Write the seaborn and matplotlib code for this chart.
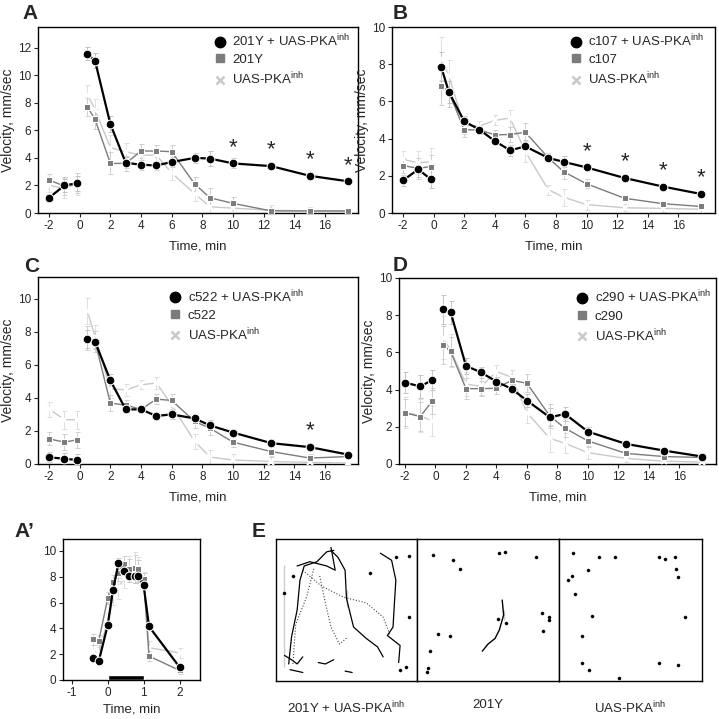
import matplotlib
matplotlib.use('Agg')
import matplotlib.pyplot as plt
from matplotlib.lines import Line2D
import seaborn as sns

sns.set_style('ticks')
plt.rcParams['font.family'] = ['Liberation Sans', 'DejaVu Sans']
plt.rcParams['mathtext.fontset'] = 'custom'
plt.rcParams['mathtext.rm'] = 'Liberation Sans'
plt.rcParams['axes.unicode_minus'] = False

W, H = 719, 719

# time points (min) for panels A-D; first three are pre-stimulus
time = [-2, -1, -0.2, 0.5, 1, 2, 3, 4, 5, 6, 7.5, 8.5, 10, 12.5, 15, 17.5]

# panel A: 201Y
a_black = [1.1, 2.0, 2.15, 11.55, 11.05, 6.45, 3.65, 3.5, 3.45, 3.7, 4.0, 3.95, 3.6, 3.4, 2.7, 2.3]
a_grey = [2.4, 1.95, 2.15, 7.7, 6.8, 3.6, 3.6, 4.5, 4.5, 4.45, 2.1, 1.1, 0.7, 0.15, 0.15, 0.15]
a_light = [2.0, 1.8, 2.1, 8.6, 7.5, 4.75, 4.45, 4.2, 4.2, 2.9, 1.4, 0.45, 0.35, 0.2, 0.15, 0.1]
a_err = [0.5, 0.8, 0.9, 0.8, 0.9, 1.0, 0.7, 0.6, 0.5, 0.6, 0.6, 0.9, 0.6, 0.4, 0.3, 0.3]
a_stars = [10, 12.5, 15, 17.5]

# panel B: c107
b_black = [1.75, 2.35, 1.82, 7.85, 6.5, 4.93, 4.48, 3.87, 3.37, 3.58, 2.96, 2.75, 2.45, 1.88, 1.42, 1.02]
b_grey = [2.55, 2.4, 2.5, 6.85, 6.5, 4.47, 4.47, 4.2, 4.22, 4.34, 2.97, 2.22, 1.57, 0.79, 0.5, 0.35]
b_light = [2.88, 2.7, 2.75, 8.3, 7.35, 4.7, 4.68, 4.98, 5.1, 3.3, 1.25, 0.85, 0.45, 0.28, 0.25, 0.2]
b_err = [0.5, 0.7, 0.8, 1.3, 1.0, 0.5, 0.3, 0.3, 0.5, 0.6, 0.3, 0.5, 0.3, 0.2, 0.2, 0.2]
b_stars = [10, 12.5, 15, 17.5]

# panel C: c522
c_black = [0.4, 0.32, 0.24, 7.57, 7.4, 5.05, 3.3, 3.3, 2.9, 3.0, 2.75, 2.33, 1.9, 1.26, 1.02, 0.57]
c_grey = [1.52, 1.32, 1.46, 7.6, 7.4, 3.68, 3.56, 3.3, 3.92, 3.84, 2.57, 2.16, 1.32, 0.75, 0.36, 0.45]
c_light = [3.32, 2.68, 2.67, 9.25, 7.7, 4.55, 4.48, 4.78, 4.9, 3.55, 1.36, 0.42, 0.24, 0.15, 0.1, 0.06]
c_err = [0.5, 0.6, 0.6, 0.9, 0.8, 0.6, 0.4, 0.3, 0.4, 0.5, 0.5, 0.5, 0.4, 0.4, 0.3, 0.2]
c_stars = [15]

# panel D: c290
d_black = [4.38, 4.17, 4.52, 8.33, 8.15, 5.28, 4.92, 4.43, 4.04, 3.41, 2.51, 2.69, 1.74, 1.08, 0.72, 0.4]
d_grey = [2.75, 2.55, 3.39, 6.4, 6.05, 4.05, 4.05, 4.07, 4.5, 4.34, 2.58, 1.92, 1.24, 0.57, 0.4, 0.35]
d_light = [2.77, 2.6, 2.3, 6.8, 6.1, 4.3, 4.17, 4.97, 4.67, 2.76, 1.38, 1.11, 0.61, 0.3, 0.15, 0.1]
d_err = [0.9, 1.0, 0.9, 1.3, 1.0, 0.7, 0.5, 0.4, 0.4, 0.6, 0.8, 0.6, 0.4, 0.2, 0.2, 0.1]
d_stars = []

# panel A': 201Y, fine time resolution around stimulus
ap_time = [-0.4, -0.25, 0, 0.15, 0.3, 0.45, 0.6, 0.75, 0.85, 1.0, 1.15, 2.0]
ap_black = [1.7, 1.45, 4.25, 7.0, 9.05, 8.45, 8.1, 8.1, 8.05, 7.35, 4.15, 1.0]
ap_grey = [3.15, 3.0, 6.35, 7.6, 8.3, 9.0, 8.6, 8.7, 8.6, 7.85, 1.85, 0.75]
ap_light = [2.25, 2.1, 4.6, 6.5, 7.1, 7.9, 8.6, 8.7, 8.6, 7.8, 2.5, 2.1]
ap_err = [0.5, 0.6, 0.6, 0.7, 0.8, 0.8, 1.0, 1.2, 0.9, 0.6, 0.5, 0.4]

# panel E: tracks (normalized box coordinates)
e1_paths = [
    [(0.06, 0.92), (0.06, 0.62), (0.06, 0.10)],
    [(0.09, 0.12), (0.11, 0.31), (0.15, 0.50), (0.17, 0.71), (0.20, 0.81), (0.29, 0.84), (0.36, 0.91), (0.41, 0.92)],
    [(0.39, 0.92), (0.44, 0.87), (0.49, 0.78), (0.50, 0.64), (0.50, 0.52), (0.55, 0.38), (0.64, 0.30), (0.72, 0.24), (0.76, 0.17)],
    [(0.74, 0.90), (0.82, 0.85), (0.85, 0.71), (0.84, 0.55), (0.83, 0.38), (0.79, 0.32), (0.88, 0.25), (0.87, 0.13)],
    [(0.15, 0.81), (0.24, 0.84), (0.36, 0.81), (0.42, 0.78), (0.39, 0.94)],
    [(0.06, 0.18), (0.11, 0.15), (0.15, 0.12), (0.19, 0.17)],
    [(0.30, 0.13), (0.35, 0.12), (0.41, 0.15)],
    [(0.49, 0.07), (0.54, 0.06)],
    [(0.10, 0.08), (0.19, 0.06)],
]
e1_dotted = [
    [(0.19, 0.78), (0.32, 0.67), (0.48, 0.59), (0.64, 0.55), (0.76, 0.45), (0.81, 0.32)],
    [(0.31, 0.74), (0.35, 0.55), (0.39, 0.38), (0.45, 0.26), (0.51, 0.31)],
    [(0.12, 0.12), (0.14, 0.40), (0.22, 0.60), (0.27, 0.80)],
]
e1_dots = [(0.67, 0.76), (0.94, 0.45), (0.85, 0.87), (0.94, 0.88), (0.12, 0.74),
           (0.06, 0.62), (0.92, 0.10), (0.88, 0.08)]
e2_path = [(0.46, 0.21), (0.50, 0.26), (0.55, 0.30), (0.58, 0.36), (0.61, 0.43), (0.61, 0.50), (0.60, 0.57)]
e2_dots = [(0.11, 0.89), (0.25, 0.85), (0.30, 0.79), (0.58, 0.90), (0.62, 0.91), (0.84, 0.87),
           (0.88, 0.48), (0.93, 0.45), (0.93, 0.43), (0.57, 0.44), (0.63, 0.41), (0.89, 0.35),
           (0.15, 0.33), (0.23, 0.32), (0.09, 0.21), (0.08, 0.09), (0.07, 0.06)]
e3_dots = [(0.10, 0.90), (0.28, 0.87), (0.39, 0.87), (0.70, 0.87), (0.74, 0.86), (0.81, 0.87),
           (0.20, 0.78), (0.82, 0.79), (0.09, 0.74), (0.06, 0.71), (0.83, 0.73), (0.11, 0.61),
           (0.23, 0.46), (0.88, 0.45), (0.16, 0.32), (0.16, 0.13), (0.21, 0.08), (0.70, 0.13),
           (0.83, 0.11), (0.42, 0.02)]

INH = r'UAS-PKA$^{\mathrm{inh}}$'
STYLES = {
    'light': dict(color='#c9c9c9', marker='x', markersize=4.5, markeredgewidth=1.6, linewidth=1.0),
    'grey': dict(color='#7c7c7c', marker='s', markersize=4.8, linewidth=1.0),
    'black': dict(color='black', marker='o', markersize=6.3, linewidth=1.6),
}
ERR_COLORS = {'light': '#dedede', 'grey': '#cfcfcf', 'black': '#c4c4c4'}


def px_axes(fig, left, top, right, bottom):
    return fig.add_axes([left / W, 1 - bottom / H, (right - left) / W, (bottom - top) / H])


def draw_series(ax, t, y, err, key, split=3):
    # errors drawn faintly behind lines; pre- and post-stimulus parts not joined
    ax.errorbar(t, y, yerr=err, fmt='none', ecolor=ERR_COLORS[key], elinewidth=0.7,
                capsize=1.8, capthick=0.7, zorder=1)
    for seg in (slice(0, split), slice(split, None)):
        sns.lineplot(x=t[seg], y=y[seg], ax=ax, sort=False, zorder=3, **STYLES[key])


def style_axes(ax):
    for s in ax.spines.values():
        s.set_visible(True)
        s.set_linewidth(1.0)
        s.set_color('black')
    ax.tick_params(direction='out', length=3, width=0.8, labelsize=8.5, pad=2)
    ax.set_xlabel('')
    ax.set_ylabel('')


def main_panel(fig, box, xlim, ylim, data, stars, name, leg_pos):
    ax = px_axes(fig, *box)
    black, grey, light, err = data
    draw_series(ax, time, light, [e * 0.9 for e in err], 'light')
    draw_series(ax, time, grey, [e * 0.8 for e in err], 'grey')
    draw_series(ax, time, black, [e * 0.6 for e in err], 'black')
    for s in stars:
        ax.annotate('*', (s, black[time.index(s)]), xytext=(0, 4), textcoords='offset points',
                    ha='center', va='bottom', fontsize=16, zorder=5)
    ax.set_xlim(*xlim)
    ax.set_ylim(*ylim)
    ax.set_xticks(range(-2, 17, 2))
    ax.set_yticks(range(0, int(ylim[1]) + 1, 2))
    style_axes(ax)
    ax.set_xlabel('Time, min', fontsize=9.5, labelpad=6)
    ax.set_ylabel('Velocity, mm/sec', fontsize=10, labelpad=2)
    handles = [
        Line2D([], [], ls='none', marker='o', color='black', markersize=7.5),
        Line2D([], [], ls='none', marker='s', color='#7c7c7c', markersize=5.5),
        Line2D([], [], ls='none', marker='x', color='#c9c9c9', markersize=5.5, markeredgewidth=1.8),
    ]
    labels = [name + ' + ' + INH, name, INH]
    ax.legend(handles, labels, loc='upper left', bbox_to_anchor=leg_pos, frameon=False,
              fontsize=9.5, handlelength=0.9, handletextpad=0.5, labelspacing=0.35,
              borderaxespad=0, borderpad=0)
    return ax


fig = plt.figure(figsize=(W / 100, H / 100), dpi=100)

main_panel(fig, (38, 27, 358, 213), (-2.72, 18.15), (0, 13.5),
           (a_black, a_grey, a_light, a_err), a_stars, '201Y', (0.55, 0.97))
main_panel(fig, (392, 27, 715, 213), (-2.72, 18.4), (0, 10),
           (b_black, b_grey, b_light, b_err), b_stars, 'c107', (0.55, 0.97))
main_panel(fig, (38, 277, 358, 464), (-2.72, 18.15), (0, 11.3),
           (c_black, c_grey, c_light, c_err), c_stars, 'c522', (0.41, 0.94))
main_panel(fig, (399, 278, 716, 464), (-2.39, 18.4), (0, 10),
           (d_black, d_grey, d_light, d_err), d_stars, 'c290', (0.56, 0.94))

# panel A'
axp = px_axes(fig, 63, 539, 200, 680)
draw_series(axp, ap_time, ap_light, ap_err, 'light', split=0)
draw_series(axp, ap_time, ap_grey, [e * 0.8 for e in ap_err], 'grey', split=0)
draw_series(axp, ap_time, ap_black, [e * 0.5 for e in ap_err], 'black', split=0)
axp.bar([0.5], [0.42], width=1.0, bottom=0, color='black', zorder=4)
axp.set_xlim(-1.245, 2.57)
axp.set_ylim(0, 10.93)
axp.set_xticks([-1, 0, 1, 2])
axp.set_yticks(range(0, 11, 2))
style_axes(axp)
axp.set_xlabel('Time, min', fontsize=9.5, labelpad=3)

# panel E: three tracking frames
e_boxes = [(276, 417), (417, 559), (559, 702)]
e_labels = ['201Y + ' + INH, '201Y', INH]
e_axes = []
for (l, r), lab in zip(e_boxes, e_labels):
    ax = px_axes(fig, l, 539, r, 681)
    ax.set_xlim(0, 1)
    ax.set_ylim(0, 1)
    ax.set_xticks([])
    ax.set_yticks([])
    for s in ax.spines.values():
        s.set_visible(True)
        s.set_linewidth(1.0)
        s.set_color('black')
    ax.text(0.5, -0.13, lab, transform=ax.transAxes, ha='center', va='top', fontsize=9.5)
    e_axes.append(ax)

for p in e1_paths:
    sns.lineplot(x=[q[0] for q in p], y=[q[1] for q in p], ax=e_axes[0], sort=False,
                 color='black', linewidth=0.9)
for p in e1_dotted:
    sns.lineplot(x=[q[0] for q in p], y=[q[1] for q in p], ax=e_axes[0], sort=False,
                 color='#444444', linewidth=0.8, linestyle=':')
sns.lineplot(x=[q[0] for q in e2_path], y=[q[1] for q in e2_path], ax=e_axes[1], sort=False,
             color='black', linewidth=1.0)
for ax, dots in zip(e_axes, (e1_dots, e2_dots, e3_dots)):
    sns.scatterplot(x=[q[0] for q in dots], y=[q[1] for q in dots], ax=ax, color='black',
                    s=5, marker='o', edgecolor='black', linewidth=0.3)
    ax.set_xlabel('')
    ax.set_ylabel('')

# panel letters
for x, y, letter in [(22, 19, 'A'), (393, 19, 'B'), (24, 272, 'C'), (393, 271, 'D'),
                     (14, 537, 'A\u2019'), (252, 537, 'E')]:
    fig.text(x / W, 1 - y / H, letter, fontsize=15, fontweight='bold', va='baseline')

fig.savefig('out.png', dpi=100)
